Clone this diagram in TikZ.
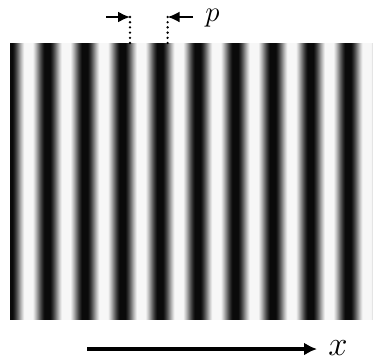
\documentclass[tikz,border=0pt]{standalone}
\usetikzlibrary{arrows.meta}

\begin{document}
\begin{tikzpicture}[x=0.5pt, y=-0.5pt,
    guide/.style = {line width=1.3pt, dash pattern=on 0pt off 2.6pt, line cap=round},
    pointer/.style = {line width=1pt, -{Latex[length=6pt,width=5.5pt]}},
    axis/.style = {line width=1.6pt, -{Latex[length=6.5pt,width=6.5pt]}}]
\def\gratingLeft{10}
\def\gratingTop{43}
\def\gratingBottom{320}
\def\period{37.6}

    \useasboundingbox (0,0) rectangle (373,360);

    %Grating
    \foreach \i in {10,...,372}{
        \pgfmathsetmacro{\shade}{min(96,max(3,46+56*cos((\i+0.5-\gratingLeft)/\period*360)))}
        \fill[black!\shade] (\i,\gratingTop) rectangle (\i+1.1,\gratingBottom);
    }

    %Period marks
    \coordinate (L) at (130,\gratingTop);
    \coordinate (R) at (130+\period,\gratingTop);
    \draw[guide] (L) -- ++(0,-30) coordinate (Ltop);
    \draw[guide] (R) -- ++(0,-30) coordinate (Rtop);
    \coordinate (La) at (106,17);
    \coordinate (Ra) at (193,17);
    \draw[pointer] (La) -- (La -| L);
    \draw[pointer] (Ra) -- (Ra -| R);
    \node[anchor=base west, inner sep=0pt, font=\fontsize{14}{16}\selectfont] (plabel) at (205,21) {$p$};

    %Axis
    \coordinate (xa) at (87,349);
    \coordinate (xb) at (317,349);
    \draw[axis] (xa) -- (xb);
    \node[anchor=base west, inner sep=0pt, font=\fontsize{17}{20}\selectfont] (xlabel) at (328,355) {$x$};
\end{tikzpicture}
\end{document}
